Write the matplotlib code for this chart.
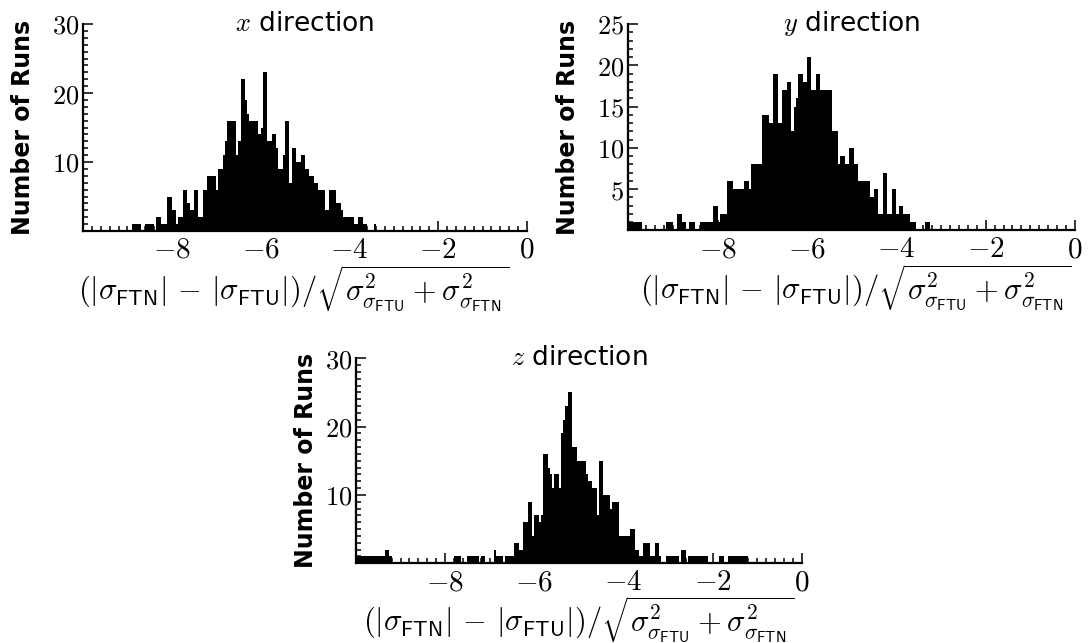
import numpy as np
import matplotlib
matplotlib.use("Agg")
import matplotlib.pyplot as plt
from matplotlib.ticker import MultipleLocator, FuncFormatter

plt.rcParams['mathtext.fontset'] = 'cm'
plt.rcParams['font.family'] = ['DejaVu Sans']

# ---------------- data: counts per 0.05-wide bin, from -10 to 0 ----------------
bin_lo, bin_hi, bin_w = -10.0, 0.0, 0.05

counts_x = (
    [0] * 20 +
    [0, 0, 1, 1, 1, 1, 0, 0, 1, 1, 1, 1, 0, 2, 2, 1, 1, 1, 5, 5] +
    [3, 3, 1, 2, 2, 6, 6, 4, 3, 3, 6, 6, 2, 2, 6, 6, 8, 8, 8, 8] +
    [6, 9, 9, 11, 13, 16, 16, 16, 16, 11, 13, 22, 22, 19, 17, 16, 16, 16, 16, 14] +
    [15, 23, 23, 13, 13, 14, 14, 12, 9, 9, 11, 16, 16, 7, 12, 12, 10, 10, 11, 11] +
    [9, 9, 8, 8, 7, 7, 6, 6, 6, 3, 3, 6, 6, 6, 4, 4, 3, 2, 2, 2] +
    [2, 2, 1, 1, 2, 2, 1, 1, 0, 0, 0, 1, 0, 0, 0, 0, 0, 0, 0, 0] +
    [0] * 60
)

counts_y = (
    [1, 1, 1, 1, 1, 1, 0, 0, 0, 0, 0, 0, 0, 0, 0, 0, 0, 1, 1, 1] +
    [0, 0, 2, 2, 1, 1, 0, 1, 1, 1, 0, 0, 1, 1, 1, 1, 1, 1, 3, 3] +
    [1, 2, 2, 2, 6, 6, 6, 5, 5, 5, 5, 5, 6, 6, 5, 8, 8, 8, 8, 8] +
    [14, 14, 14, 13, 13, 19, 19, 13, 13, 17, 17, 18, 18, 12, 15, 16, 19, 19, 18, 18] +
    [21, 21, 17, 17, 19, 19, 17, 17, 17, 17, 17, 12, 12, 12, 8, 9, 9, 8, 8, 10] +
    [10, 8, 8, 6, 6, 6, 6, 6, 4, 4, 5, 5, 2, 2, 7, 7, 2, 2, 5, 5] +
    [2, 3, 3, 2, 2, 2, 1, 1, 1, 0, 0, 0, 0, 1, 1, 0, 0, 0, 0, 0] +
    [0] * 60
)

counts_z = (
    [1, 1, 1, 1, 1, 1, 1, 1, 1, 1, 1, 1, 1, 2, 2, 1, 0, 0, 0, 0] +
    [0] * 20 +
    [0, 0, 0, 0, 1, 1, 1, 0, 0, 0, 1, 1, 1, 1, 1, 0, 1, 1, 0, 0] +
    [0, 0, 2, 1, 1, 1, 0, 1, 1, 1, 1, 3, 3, 2, 2, 6, 6, 9, 9, 4] +
    [7, 7, 6, 7, 16, 16, 14, 13, 11, 13, 13, 11, 19, 21, 23, 25, 25, 17, 17, 15] +
    [15, 15, 15, 13, 12, 12, 11, 11, 7, 15, 15, 10, 10, 10, 8, 9, 9, 9, 4, 4] +
    [4, 4, 4, 5, 5, 2, 2, 1, 1, 3, 3, 3, 1, 1, 3, 3, 1, 0, 0, 1] +
    [1, 1, 1, 1, 1, 0, 2, 2, 0, 1, 1, 1, 1, 1, 1, 1, 1, 1, 0, 0] +
    [0, 0, 0, 1, 1, 0, 0, 1, 1, 1, 1, 1, 1, 1, 1, 1, 0, 0, 0, 0] +
    [0] * 20
)

titles = ['$x$ direction', '$y$ direction', '$z$ direction']
y_max = [30, 25, 30]
y_major = [10, 5, 10]
x_label = (r'$(|\sigma_{\mathsf{FTN}}|\, -\, |\sigma_{\mathsf{FTU}}|)/'
           r'\sqrt{\sigma^2_{\sigma_{\mathsf{FTU}}} + \sigma^2_{\sigma_{\mathsf{FTN}}}}$')
y_label = 'Number of Runs'

# ---------------- figure ----------------
W, H = 1089, 643
fig = plt.figure(figsize=(W / 100, H / 100), dpi=100)

rects = [
    [83 / W, 1 - 231 / H, 444 / W, 207 / H],
    [628.3 / W, 1 - 230.5 / H, 446.7 / W, 206.5 / H],
    [356 / W, 1 - 563.3 / H, 445.7 / W, 205 / H],
]
ylab_x = [-0.108, -0.108, -0.085]
xlab_pos = [(0.475, -0.155), (0.51, -0.155), (0.5, -0.15)]

edges = np.arange(int(round((bin_hi - bin_lo) / bin_w)) + 1) * bin_w + bin_lo
centers = 0.5 * (edges[:-1] + edges[1:])


def xfmt(v, pos):
    if abs(v + 10) < 1e-6:
        return ''
    return '$%d$' % int(round(v))


def yfmt(v, pos):
    if abs(v) < 1e-6:
        return ''
    return '$%d$' % int(round(v))


for i, counts in enumerate([counts_x, counts_y, counts_z]):
    ax = fig.add_axes(rects[i])
    ax.hist(centers, bins=edges, weights=counts, histtype='stepfilled',
            color='black', linewidth=0)
    ax.set_xlim(bin_lo, bin_hi)
    ax.set_ylim(0, y_max[i])
    for s in ['top', 'right']:
        ax.spines[s].set_visible(False)
    for s in ['left', 'bottom']:
        ax.spines[s].set_linewidth(1.6)
    ax.xaxis.set_major_locator(MultipleLocator(2))
    ax.xaxis.set_minor_locator(MultipleLocator(0.2))
    ax.yaxis.set_major_locator(MultipleLocator(y_major[i]))
    ax.yaxis.set_minor_locator(MultipleLocator(1))
    ax.xaxis.set_major_formatter(FuncFormatter(xfmt))
    ax.yaxis.set_major_formatter(FuncFormatter(yfmt))
    ax.tick_params(which='both', direction='in', top=False, right=False,
                   width=1.1, color='black')
    ax.tick_params(which='major', length=7.5)
    ax.tick_params(which='minor', length=3.8)
    ax.tick_params(axis='x', labelsize=21, pad=3.5)
    ax.tick_params(axis='y', labelsize=19, pad=3)
    ax.set_ylabel(y_label, fontsize=17, fontweight='bold')
    ax.yaxis.set_label_coords(ylab_x[i], 0.5)
    ax.set_xlabel(x_label, fontsize=22)
    ax.xaxis.set_label_coords(*xlab_pos[i])
    ax.text(0.5, 1.0, titles[i], transform=ax.transAxes, ha='center',
            va='center', fontsize=19)

fig.savefig('out.png', dpi=100)
